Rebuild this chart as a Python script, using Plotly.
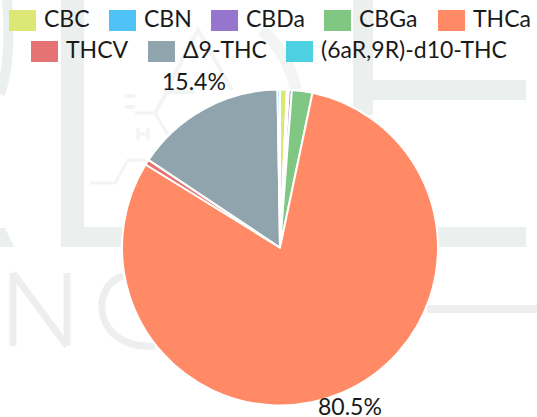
import math
import plotly.graph_objects as go

labels = ["CBC", "CBN", "CBDa", "CBGa", "THCa", "THCV", "Δ9-THC", "(6aR,9R)-d10-THC"]
values = [0.7, 0.2, 0.3, 2.1, 80.5, 0.55, 15.4, 0.25]
colors = ["#DCE775", "#4FC3F7", "#9575CD", "#81C784", "#FF8A65", "#E57373", "#90A4AE", "#4DD0E1"]
label_radius = [None, None, None, None, 172, None, 190, None]
label_xshift = [0, 0, 0, 0, 2, 0, 5, 0]

W, H = 537, 417
cx, cy, r = 280, 247.5, 158
TEXT = "#1a1a1a"


def px(x):
    return x / W


def py(y):
    return 1 - y / H


def path(*parts):
    out = []
    for p in parts:
        if isinstance(p, str):
            out.append(p)
        else:
            out.append(f"{px(p[0]):.5f},{py(p[1]):.5f}")
    return " ".join(out)


fig = go.Figure(go.Pie(
    labels=labels, values=values, sort=False, direction="clockwise", rotation=0,
    marker=dict(colors=colors, line=dict(color="white", width=2)),
    textinfo="none",
    domain=dict(x=[px(cx - r), px(cx + r)], y=[py(cy + r), py(cy - r)]),
    hoverinfo="label+percent",
    showlegend=False,
))

# faint background watermark
GREEN = "#EBEFED"
GREY = "#EEEEEE"
PALE = "#F3F4F4"
shapes = []


def rect(x0, y0, x1, y1, c):
    shapes.append(dict(type="rect", xref="paper", yref="paper", layer="below",
                       x0=px(x0), x1=px(x1), y0=py(y1), y1=py(y0),
                       fillcolor=c, line=dict(width=0)))


def stroke(d, c, w):
    shapes.append(dict(type="path", xref="paper", yref="paper", layer="below",
                       path=d, line=dict(color=c, width=w), fillcolor="rgba(0,0,0,0)"))


def fill(d, c):
    shapes.append(dict(type="path", xref="paper", yref="paper", layer="below",
                       path=d, fillcolor=c, line=dict(width=0)))


rect(61, 0, 84, 247, GREEN)
rect(61, 227, 123, 247, GREEN)
rect(353, 0, 373, 115, GREEN)
rect(353, 80, 526, 100, GREEN)
rect(437, 227, 526, 247, GREEN)
rect(427, 305, 537, 313, GREY)
fill(path("M", (0, 228), "L", (5, 228), "L", (14, 247), "L", (0, 247), "Z"), GREEN)
stroke(path("M", (0, 94), "Q", (12, 60), (7, 0)), GREEN, 10)
stroke(path("M", (262, 30), "Q", (290, 55), (296, 92)), PALE, 12)
stroke(path("M", (13, 273), "L", (13, 346)), GREY, 7)
stroke(path("M", (67, 273), "L", (67, 346)), GREY, 7)
stroke(path("M", (13, 273), "L", (67, 346)), GREY, 7)
stroke(path("M", (123, 276), "C", (90, 285), (92, 350), (155, 346)), GREY, 7)
stroke(path("M", (135, 113), "L", (155, 113), "L", (168, 135)), PALE, 3)
stroke(path("M", (155, 113), "L", (167, 92), "L", (195, 92)), PALE, 4)
stroke(path("M", (90, 183), "L", (115, 183), "L", (128, 160), "L", (146, 160)), PALE, 3)
stroke(path("M", (165, 92), "L", (198, 30), "L", (232, 90)), PALE, 4)
stroke(path("M", (125, 96), "L", (135, 96), "M", (125, 107), "L", (135, 107)), PALE, 4)
stroke(path("M", (138, 128), "L", (138, 140), "M", (148, 128), "L", (148, 140), "M", (138, 134), "L", (148, 134)), PALE, 3)

# legend rows
swatch_x = [9, 109, 211, 324, 438, 31, 148, 286]
swatch_y = [10, 10, 10, 10, 10, 41, 41, 41]
SW_W, SW_H = 27, 21
annotations = []
for name, c, x, y in zip(labels, colors, swatch_x, swatch_y):
    rect(x, y, x + SW_W, y + SW_H, c)
    annotations.append(dict(text=name, xref="paper", yref="paper", x=px(x + SW_W + 6), y=py(y + 8),
                            xanchor="left", yanchor="middle", showarrow=False,
                            font=dict(family="Lato", size=23, color=TEXT)))

# percent labels, placed radially from the slice midpoints
total = sum(values)
running = 0.0
for v, R, dx in zip(values, label_radius, label_xshift):
    mid = (running + v / 2) / total * 2 * math.pi
    running += v
    if R is None:
        continue
    annotations.append(dict(text=f"{v / total:.1%}", xref="paper", yref="paper",
                            x=px(cx + R * math.sin(mid)), y=py(cy - R * math.cos(mid)), xshift=dx,
                            xanchor="center", yanchor="middle", showarrow=False,
                            font=dict(family="Lato", size=23, color=TEXT)))

fig.update_layout(
    width=W, height=H, margin=dict(l=0, r=0, t=0, b=0),
    paper_bgcolor="white", font=dict(family="Lato", size=22, color=TEXT),
    showlegend=False, shapes=shapes, annotations=annotations,
)
fig.write_html("out.html", config={"displayModeBar": False},
               post_script="document.body.style.margin='0';document.documentElement.style.overflow='hidden';")
